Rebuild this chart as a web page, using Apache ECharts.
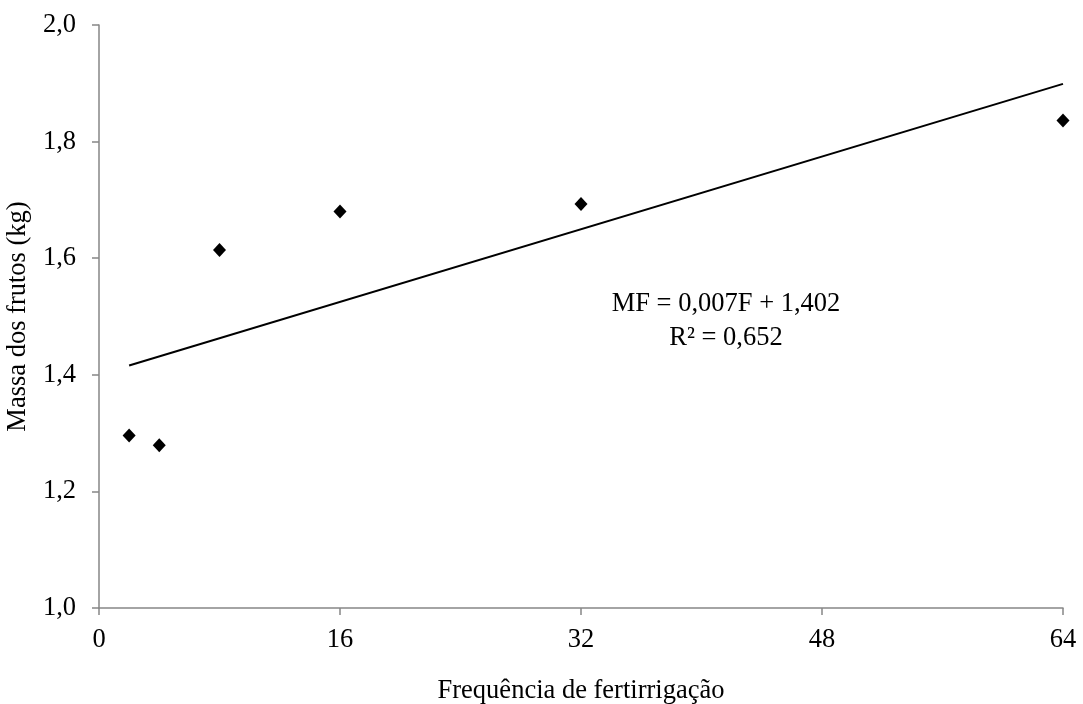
<!DOCTYPE html>
<html>
<head>
<meta charset="utf-8">
<script src="https://cdn.jsdelivr.net/npm/echarts@6/dist/echarts.min.js"></script>
<style>
  html, body { margin: 0; padding: 0; background: #fff; }
  #main { width: 1083px; height: 704px; }
</style>
</head>
<body>
<div id="main"></div>
<script>
// dados
var frequencia = [2, 4, 8, 16, 32, 64];
var massa = [1.296, 1.279, 1.614, 1.680, 1.693, 1.836];
// linha de tendência (extremos)
var trendX = [2, 64];
var trendY = [1.416, 1.899];
var xTicks = [0, 16, 32, 48, 64];
var equacao = ['MF = 0,007F + 1,402', 'R² = 0,652'];

var FONT = '"Liberation Serif", "Times New Roman", serif';
var FS = 26.5;
var AXIS_COLOR = '#868686';

var myChart = echarts.init(document.getElementById('main'));

function fmt(v) {
    return v.toFixed(1).replace('.', ',');
}

var option = {
    backgroundColor: '#fff',
    animation: false,
    textStyle: { fontFamily: FONT },
    grid: {
        left: 99,
        right: 20,
        top: 25,
        bottom: 96,
        outerBoundsMode: 'none',
        containLabel: false
    },
    xAxis: {
        type: 'value',
        min: xTicks[0],
        max: xTicks[xTicks.length - 1],
        interval: 16,
        name: 'Frequência de fertirrigação',
        nameLocation: 'middle',
        nameGap: 70,
        nameTextStyle: { fontFamily: FONT, fontSize: FS, color: '#000' },
        axisLine: { show: true, lineStyle: { color: AXIS_COLOR, width: 1.5 } },
        axisTick: { show: true, length: 7, lineStyle: { color: AXIS_COLOR, width: 1.5 } },
        axisLabel: { fontFamily: FONT, fontSize: FS, color: '#000', margin: 19 },
        splitLine: { show: false }
    },
    yAxis: {
        type: 'value',
        min: 1.0,
        max: 2.0,
        interval: 0.2,
        name: 'Massa dos frutos (kg)',
        nameLocation: 'middle',
        nameGap: 61,
        nameRotate: 90,
        nameTextStyle: { fontFamily: FONT, fontSize: FS, color: '#000' },
        axisLine: { show: true, lineStyle: { color: AXIS_COLOR, width: 1.5 } },
        axisTick: { show: true, length: 7, lineStyle: { color: AXIS_COLOR, width: 1.5 } },
        axisLabel: { fontFamily: FONT, fontSize: FS, color: '#000', margin: 23, formatter: fmt },
        splitLine: { show: false }
    },
    series: [
        {
            name: 'Tendência',
            type: 'line',
            data: trendX.map(function (x, i) { return [x, trendY[i]]; }),
            showSymbol: false,
            lineStyle: { color: '#000', width: 2 },
            silent: true
        },
        {
            name: 'Massa',
            type: 'scatter',
            data: frequencia.map(function (x, i) { return [x, massa[i]]; }),
            symbol: 'diamond',
            symbolSize: [13, 14],
            itemStyle: { color: '#000', opacity: 1 }
        }
    ],
    graphic: [
        {
            type: 'text',
            x: 726,
            y: 304,
            style: {
                text: equacao[0],
                font: FS + 'px ' + FONT,
                fill: '#000',
                align: 'center',
                verticalAlign: 'middle'
            }
        },
        {
            type: 'text',
            x: 726,
            y: 338,
            style: {
                text: equacao[1],
                font: FS + 'px ' + FONT,
                fill: '#000',
                align: 'center',
                verticalAlign: 'middle'
            }
        }
    ]
};

option && myChart.setOption(option);
</script>
</body>
</html>
